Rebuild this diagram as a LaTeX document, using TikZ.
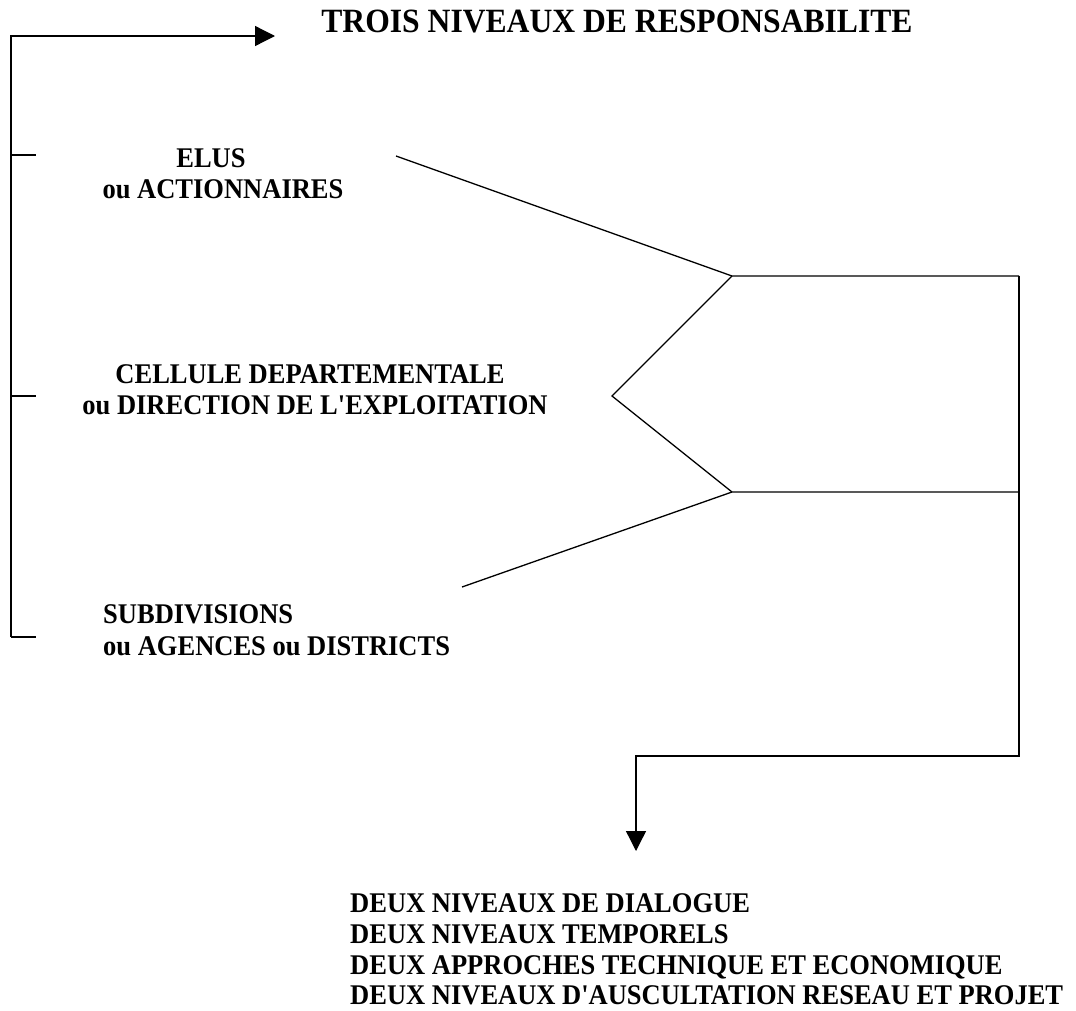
\documentclass[tikz,border=0pt]{standalone}
\usepackage{fontspec}
\setmainfont{Liberation Serif}[FakeStretch=0.93,Ligatures=TeXOff]
\usetikzlibrary{arrows.meta}
\begin{document}
\begin{tikzpicture}[x=1pt,y=-1pt,
  line/.style={draw=black,line width=1.3pt,line join=miter},
  tip/.style={-{Triangle[length=20pt,width=20pt]}},
  lbl/.style={inner sep=0pt,font=\bfseries\fontsize{28.5}{31.5}\selectfont},
  ttl/.style={inner sep=0pt,font=\bfseries\fontsize{34}{40}\selectfont}]
\useasboundingbox (0,0) rectangle (1076,1010);
% texts
\node[ttl,anchor=base] (title) at (617,32) {TROIS NIVEAUX DE RESPONSABILITE};
\node[lbl,anchor=base] (elus1) at (211,167) {ELUS};
\node[lbl,anchor=base] (elus2) at (223,198) {ou ACTIONNAIRES};
\node[lbl,anchor=base] (cell1) at (310,383) {CELLULE DEPARTEMENTALE};
\node[lbl,anchor=base] (cell2) at (315,414) {ou DIRECTION DE L'EXPLOITATION};
\node[lbl,anchor=base west] (sub1) at (103,623) {SUBDIVISIONS};
\node[lbl,anchor=base west] (sub2) at (103,655) {ou AGENCES ou DISTRICTS};
\node[lbl,anchor=base west] (d1) at (350,912) {DEUX NIVEAUX DE DIALOGUE};
\node[lbl,anchor=base west] (d2) at (350,943) {DEUX NIVEAUX TEMPORELS};
\node[lbl,anchor=base west] (d3) at (350,974) {DEUX APPROCHES TECHNIQUE ET ECONOMIQUE};
\node[lbl,anchor=base west] (d4) at (350,1004) {DEUX NIVEAUX D'AUSCULTATION RESEAU ET PROJET};
% coordinates
\coordinate (bt) at (11,36);
\coordinate (bb) at (11,637);
\coordinate (ar) at (275,36);
\coordinate (t1a) at (11,155);  \coordinate (t1b) at (36,155);
\coordinate (t2a) at (11,396);  \coordinate (t2b) at (36,396);
\coordinate (t3b) at (36,637);
\coordinate (u1) at (396,156);
\coordinate (pa) at (732,276);
\coordinate (pm) at (612,396);
\coordinate (pb) at (732,492);
\coordinate (l1) at (462,587);
\coordinate (ra) at (1019,276);
\coordinate (rb) at (1019,492);
\coordinate (rc) at (1019,756);
\coordinate (dc) at (636,756);
\coordinate (dt) at (636,851);
% bracket
\draw[line,tip] (bb) -- (bt) -- (ar);
\draw[line] (t1a) -- (t1b);
\draw[line] (t2a) -- (t2b);
\draw[line] (bb) -- (t3b);
% funnel
\draw[line] (u1) -- (pa) -- (ra);
\draw[line] (pa) -- (pm) -- (pb);
\draw[line] (l1) -- (pb) -- (rb);
\draw[line,tip] (ra) -- (rc) -- (dc) -- (dt);
\end{tikzpicture}
\end{document}
